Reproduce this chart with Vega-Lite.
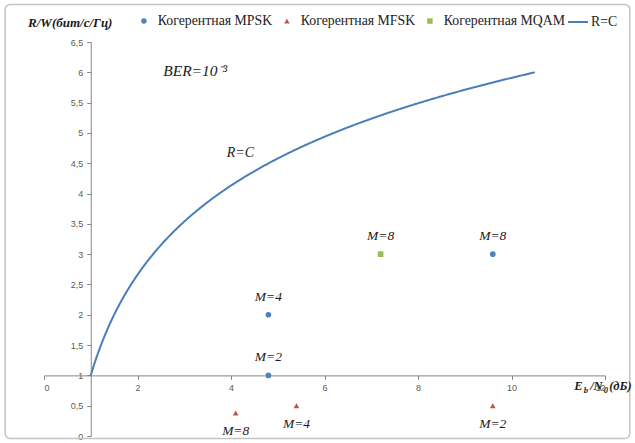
{
  "$schema": "https://vega.github.io/schema/vega-lite/v6.json",
  "width": 561,
  "height": 394,
  "autosize": {"type": "none"},
  "padding": {"left": 44, "top": 42, "right": 30, "bottom": 7},
  "background": "white",
  "config": {
    "view": {"stroke": null},
    "axis": {
      "grid": false,
      "domainColor": "#868686",
      "tickColor": "#868686",
      "tickSize": 4,
      "labelFont": "Liberation Sans",
      "labelFontSize": 9,
      "labelColor": "#595959",
      "labelOverlap": false
    }
  },
  "datasets": {
    "one": [{}],
    "shannon": [
      {"ebn0": 1.0, "rw": 1.0},
      {"ebn0": 1.0395, "rw": 1.1},
      {"ebn0": 1.1027, "rw": 1.25},
      {"ebn0": 1.219, "rw": 1.5},
      {"ebn0": 1.3506, "rw": 1.75},
      {"ebn0": 1.5, "rw": 2.0},
      {"ebn0": 1.6697, "rw": 2.25},
      {"ebn0": 1.8627, "rw": 2.5},
      {"ebn0": 2.0826, "rw": 2.75},
      {"ebn0": 2.3333, "rw": 3.0},
      {"ebn0": 2.6196, "rw": 3.25},
      {"ebn0": 2.9468, "rw": 3.5},
      {"ebn0": 3.3211, "rw": 3.75},
      {"ebn0": 3.75, "rw": 4.0},
      {"ebn0": 4.2417, "rw": 4.25},
      {"ebn0": 4.8061, "rw": 4.5},
      {"ebn0": 5.4545, "rw": 4.75},
      {"ebn0": 6.2, "rw": 5.0},
      {"ebn0": 7.058, "rw": 5.25},
      {"ebn0": 8.0463, "rw": 5.5},
      {"ebn0": 9.1856, "rw": 5.75},
      {"ebn0": 10.5, "rw": 6.0}
    ],
    "schemes": [
      {"series": "Когерентная MPSK", "ebn0": 4.8, "rw": 2.0, "label": "M=4"},
      {"series": "Когерентная MPSK", "ebn0": 4.8, "rw": 1.0, "label": "M=2"},
      {"series": "Когерентная MPSK", "ebn0": 9.6, "rw": 3.0, "label": "M=8"},
      {"series": "Когерентная MFSK", "ebn0": 4.1, "rw": 0.38, "label": "M=8"},
      {"series": "Когерентная MFSK", "ebn0": 5.4, "rw": 0.5, "label": "M=4"},
      {"series": "Когерентная MFSK", "ebn0": 9.6, "rw": 0.5, "label": "M=2"},
      {"series": "Когерентная MQAM", "ebn0": 7.2, "rw": 3.0, "label": "M=8"}
    ]
  },
  "layer": [
    {
      "description": "chart area frame",
      "data": {"name": "one"},
      "mark": {"type": "rect", "filled": false, "stroke": "#c4c4c4", "strokeWidth": 1.5, "cornerRadius": 5},
      "encoding": {
        "x": {"datum": -0.83, "type": "quantitative", "scale": {"domain": [0, 12], "nice": false}},
        "x2": {"datum": 12.53},
        "y": {"datum": -0.04, "type": "quantitative", "scale": {"domain": [0, 6.5], "nice": false}},
        "y2": {"datum": 7.12}
      }
    },
    {
      "data": {"name": "shannon"},
      "mark": {"type": "line", "color": "#4A7EBB", "strokeWidth": 2, "interpolate": "monotone"},
      "encoding": {
        "x": {
          "field": "ebn0", "type": "quantitative",
          "scale": {"domain": [0, 12], "nice": false},
          "axis": {
            "orient": "bottom", "offset": -60.6,
            "values": [0, 2, 4, 6, 8, 10, 12],
            "labelExpr": "format(datum.value, '~g')",
            "title": null, "labelPadding": 4
          }
        },
        "y": {
          "field": "rw", "type": "quantitative",
          "scale": {"domain": [0, 6.5], "nice": false},
          "axis": {
            "orient": "left", "offset": -46.75,
            "values": [0, 0.5, 1, 1.5, 2, 2.5, 3, 3.5, 4, 4.5, 5, 5.5, 6, 6.5],
            "tickCount": 20,
            "labelOverlap": false,
            "labelExpr": "replace(format(datum.value, '~g'), '.', ',')",
            "labelPadding": 4,
            "title": "R/W(бит/с/Гц)",
            "titleAngle": 0,
            "titleX": -21,
            "titleY": -20,
            "titleAlign": "center",
            "titleBaseline": "middle",
            "titleFont": "Liberation Serif",
            "titleFontStyle": "italic",
            "titleFontWeight": "bold",
            "titleFontSize": 13,
            "titleColor": "#1a1a1a"
          }
        },
        "strokeDash": {
          "datum": "R=C",
          "scale": {"range": [[1, 0]]},
          "legend": {
            "title": null,
            "orient": "none",
            "legendX": 523,
            "legendY": -31,
            "padding": 0,
            "labelOffset": 2,
            "labelFont": "Liberation Serif",
            "labelFontSize": 13.8,
            "labelColor": "#222222",
            "symbolSize": 400,
            "symbolStrokeWidth": 2,
            "symbolStrokeColor": "#4A7EBB"
          }
        }
      }
    },
    {
      "data": {"name": "schemes"},
      "mark": {"type": "point", "filled": true, "size": 32, "opacity": 1},
      "encoding": {
        "x": {"field": "ebn0", "type": "quantitative"},
        "y": {"field": "rw", "type": "quantitative"},
        "color": {
          "field": "series", "type": "nominal",
          "scale": {
            "domain": ["Когерентная MPSK", "Когерентная MFSK", "Когерентная MQAM"],
            "range": ["#4F81BD", "#C0504D", "#9BBB59"]
          },
          "legend": {
            "title": null,
            "orient": "none",
            "direction": "horizontal",
            "legendX": 93,
            "legendY": -28,
            "padding": 0,
            "columnPadding": 7,
            "labelOffset": 7,
            "labelFont": "Liberation Serif",
            "labelFontSize": 13.8,
            "labelColor": "#222222",
            "labelLimit": 300,
            "symbolSize": 30
          }
        },
        "shape": {
          "field": "series", "type": "nominal",
          "scale": {
            "domain": ["Когерентная MPSK", "Когерентная MFSK", "Когерентная MQAM"],
            "range": ["circle", "triangle-up", "square"]
          }
        }
      }
    },
    {
      "data": {"name": "schemes"},
      "transform": [{"filter": "datum.series !== 'Когерентная MFSK'"}],
      "mark": {"type": "text", "dy": -18, "font": "Liberation Serif", "fontStyle": "italic", "fontSize": 13.5, "color": "#1a1a1a"},
      "encoding": {
        "x": {"field": "ebn0", "type": "quantitative"},
        "y": {"field": "rw", "type": "quantitative"},
        "text": {"field": "label"}
      }
    },
    {
      "data": {"name": "schemes"},
      "transform": [{"filter": "datum.series === 'Когерентная MFSK'"}],
      "mark": {"type": "text", "dy": 18, "font": "Liberation Serif", "fontStyle": "italic", "fontSize": 13.5, "color": "#1a1a1a"},
      "encoding": {
        "x": {"field": "ebn0", "type": "quantitative"},
        "y": {"field": "rw", "type": "quantitative"},
        "text": {"field": "label"}
      }
    },
    {
      "data": {"name": "one"},
      "mark": {"type": "text", "font": "Liberation Serif", "fontStyle": "italic", "fontSize": 15.5, "color": "#1a1a1a", "align": "left"},
      "encoding": {
        "x": {"datum": 2.55, "type": "quantitative"},
        "y": {"datum": 6.02, "type": "quantitative"},
        "text": {"value": "BER=10⁻³"}
      }
    },
    {
      "data": {"name": "one"},
      "mark": {"type": "text", "font": "Liberation Serif", "fontStyle": "italic", "fontSize": 14, "color": "#1a1a1a"},
      "encoding": {
        "x": {"datum": 4.2, "type": "quantitative"},
        "y": {"datum": 4.67, "type": "quantitative"},
        "text": {"value": "R=C"}
      }
    },
    {
      "data": {"name": "one"},
      "mark": {"type": "text", "font": "Liberation Serif", "fontStyle": "italic", "fontWeight": "bold", "fontSize": 12.5, "color": "#1a1a1a", "align": "left", "baseline": "alphabetic"},
      "encoding": {
        "x": {"datum": 11.34, "type": "quantitative"},
        "y": {"datum": 0.76, "type": "quantitative"},
        "text": {"value": "E"}
      }
    },
    {
      "data": {"name": "one"},
      "mark": {"type": "text", "font": "Liberation Serif", "fontStyle": "italic", "fontWeight": "bold", "fontSize": 8.5, "color": "#1a1a1a", "align": "left", "baseline": "alphabetic", "dx": 9.5, "dy": 3},
      "encoding": {
        "x": {"datum": 11.34, "type": "quantitative"},
        "y": {"datum": 0.76, "type": "quantitative"},
        "text": {"value": "b"}
      }
    },
    {
      "data": {"name": "one"},
      "mark": {"type": "text", "font": "Liberation Serif", "fontStyle": "italic", "fontWeight": "bold", "fontSize": 12.5, "color": "#1a1a1a", "align": "left", "baseline": "alphabetic", "dx": 16},
      "encoding": {
        "x": {"datum": 11.34, "type": "quantitative"},
        "y": {"datum": 0.76, "type": "quantitative"},
        "text": {"value": "/N"}
      }
    },
    {
      "data": {"name": "one"},
      "mark": {"type": "text", "font": "Liberation Serif", "fontStyle": "italic", "fontWeight": "bold", "fontSize": 8.5, "color": "#1a1a1a", "align": "left", "baseline": "alphabetic", "dx": 29.5, "dy": 3},
      "encoding": {
        "x": {"datum": 11.34, "type": "quantitative"},
        "y": {"datum": 0.76, "type": "quantitative"},
        "text": {"value": "0"}
      }
    },
    {
      "data": {"name": "one"},
      "mark": {"type": "text", "font": "Liberation Serif", "fontStyle": "italic", "fontWeight": "bold", "fontSize": 12.5, "color": "#1a1a1a", "align": "left", "baseline": "alphabetic", "dx": 35},
      "encoding": {
        "x": {"datum": 11.34, "type": "quantitative"},
        "y": {"datum": 0.76, "type": "quantitative"},
        "text": {"value": "(дБ)"}
      }
    }
  ]
}
